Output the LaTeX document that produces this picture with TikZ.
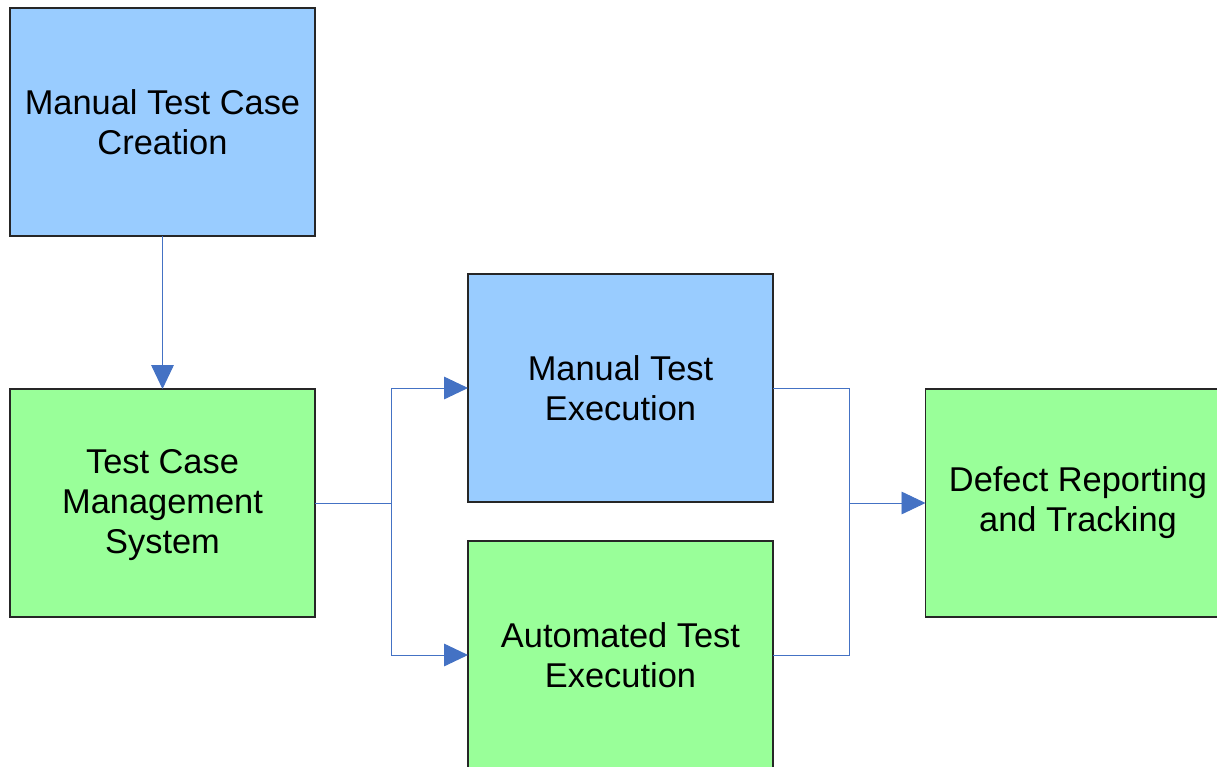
\documentclass[tikz,border=0pt]{standalone}
\usepackage{fontspec}
\setmainfont{Liberation Sans}
\usetikzlibrary{arrows.meta,shadows}
\definecolor{bluefill}{HTML}{99CCFF}
\definecolor{greenfill}{HTML}{99FF99}
\definecolor{conn}{HTML}{4472C4}
\begin{document}
\begin{tikzpicture}[x=0.75pt,y=-0.75pt,
  box/.style={draw=black!85, line width=0.9pt, inner sep=0pt, outer sep=0pt,
    minimum width=228.75pt, minimum height=171pt, align=center,
    font=\fontsize{25.8}{30}\selectfont,
    drop shadow={shadow xshift=1.1pt, shadow yshift=-1.1pt, fill=black!45, opacity=1}},
  bluebox/.style={box, fill=bluefill},
  greenbox/.style={box, fill=greenfill},
  link/.style={draw=conn, line width=0.7pt},
  arrowlink/.style={link, -{Triangle[length=18pt, width=17pt]}}]
\useasboundingbox (0,0) rectangle (1217,767);
\clip (0,0) rectangle (1217,767);
\node[bluebox] (mtcc) at (162.5,122) {Manual Test Case\\Creation};
\node[greenbox] (tcms) at (162.5,503) {\strut Test Case\\Management\\System};
\node[bluebox] (mte) at (620.5,388) {Manual Test\\Execution};
\node[greenbox] (ate) at (620.5,655) {Automated Test\\Execution};
\node[greenbox] (drt) at (1078,503) {Defect Reporting\\and Tracking};
\coordinate (split) at (391,503);
\coordinate (join) at (849,503);
\draw[arrowlink] (mtcc.south) -- (tcms.north);
\draw[link] (tcms.east) -- (split);
\draw[arrowlink] (split) |- (mte.west);
\draw[arrowlink] (split) |- (ate.west);
\draw[link] (mte.east) -| (join);
\draw[link] (ate.east) -| (join);
\draw[arrowlink] (join) -- (drt.west);
\end{tikzpicture}
\end{document}
